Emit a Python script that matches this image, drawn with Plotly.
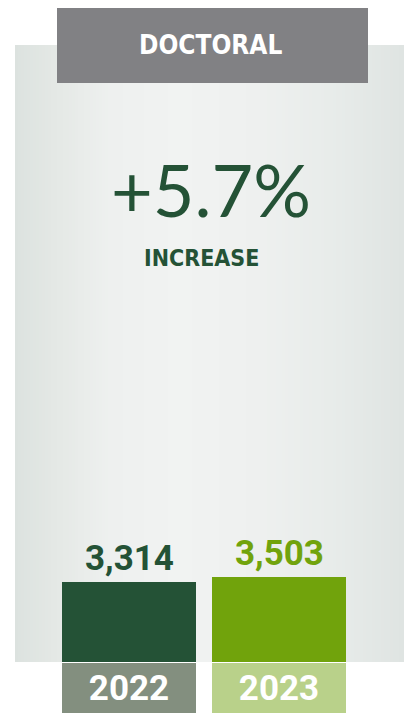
import plotly.graph_objects as go

# ---- data ----
years = ["2022", "2023"]
enrollment = [3314, 3503]
bar_colors = ["#245236", "#71a30c"]
label_colors = ["#245236", "#71a30c"]
year_box_colors = ["#838f7f", "#b9d18a"]
category_title = "DOCTORAL"
change_text = "+5.7%"
change_word = "INCREASE"

W, H = 404, 713

def px_x(p):
    return p / W

def px_y(p):
    return 1 - p / H

fig = go.Figure()

# main bars
fig.add_trace(go.Bar(
    x=years, y=enrollment, marker=dict(color=bar_colors, line=dict(width=0)),
    width=0.893, xaxis="x", yaxis="y", hoverinfo="skip", showlegend=False,
))

# year label boxes
fig.add_trace(go.Bar(
    x=years, y=[1, 1], marker=dict(color=year_box_colors, line=dict(width=0)),
    width=0.893, xaxis="x", yaxis="y2", text=years, textposition="inside",
    insidetextanchor="middle", constraintext="none",
    textfont=dict(family="Roboto", size=35, color="white", weight="bold"),
    hoverinfo="skip", showlegend=False,
))

# value labels above bars (category index positions)
for i, (v, c) in enumerate(zip(enrollment, label_colors)):
    fig.add_annotation(
        x=i, y=v, xref="x", yref="y", text=f"{v:,}", showarrow=False,
        yanchor="bottom", yshift=1,
        font=dict(family="Roboto", size=35, color=c, weight="bold"),
    )

shapes = []
# gradient background panel (vertical strips)
stops = [(15, (0xdc, 0xe2, 0xdf)), (60, (0xe5, 0xe9, 0xe6)), (110, (0xee, 0xf0, 0xef)),
         (180, (0xf1, 0xf3, 0xf2)), (260, (0xee, 0xf0, 0xef)), (330, (0xe8, 0xec, 0xea)),
         (404, (0xdf, 0xe4, 0xe2))]

def col_at(x):
    for (x0, c0), (x1, c1) in zip(stops[:-1], stops[1:]):
        if x0 <= x <= x1:
            t = (x - x0) / (x1 - x0)
            return "rgb(%d,%d,%d)" % tuple(round(a + (b - a) * t) for a, b in zip(c0, c1))
    return "rgb(%d,%d,%d)" % stops[-1][1]

step = 3
x = 15
while x < 404:
    x2 = min(x + step, 404)
    shapes.append(dict(type="rect", xref="paper", yref="paper", layer="below",
                       x0=px_x(x), x1=px_x(x2) + 0.001, y0=px_y(662), y1=px_y(45),
                       fillcolor=col_at((x + x2) / 2), line=dict(width=0)))
    x = x2

# header box
shapes.append(dict(type="rect", xref="paper", yref="paper", layer="above",
                   x0=px_x(57), x1=px_x(368), y0=px_y(83), y1=px_y(8),
                   fillcolor="#818184", line=dict(width=0)))

fig.update_layout(shapes=shapes)

fig.add_annotation(x=px_x(210), y=px_y(45), xref="paper", yref="paper",
                   text=category_title, showarrow=False, xanchor="center", yanchor="middle",
                   font=dict(family="DejaVu Sans Condensed", size=26, color="white", weight="bold"))
fig.add_annotation(x=px_x(211), y=px_y(189), xref="paper", yref="paper",
                   text=change_text, showarrow=False, xanchor="center", yanchor="middle",
                   font=dict(family="Lato", size=72, color="#245236", weight=400))
fig.add_annotation(x=px_x(201), y=px_y(258), xref="paper", yref="paper",
                   text=change_word, showarrow=False, xanchor="center", yanchor="middle",
                   font=dict(family="DejaVu Sans Condensed", size=23, color="#245236", weight="bold"))

fig.update_layout(
    width=W, height=H, margin=dict(l=0, r=0, t=0, b=0),
    paper_bgcolor="white", plot_bgcolor="rgba(0,0,0,0)",
    bargap=0,
    xaxis=dict(type="category", range=[-0.86, 1.833], visible=False, fixedrange=True),
    yaxis=dict(domain=[px_y(662), 1], range=[0, 662 / (80.5 / 3314)], visible=False, fixedrange=True),
    yaxis2=dict(domain=[0, px_y(663)], range=[0, 1], visible=False, fixedrange=True),
    showlegend=False,
)

fig.write_html(
    "out.html",
    config={"displayModeBar": False},
    post_script="document.body.style.margin='0';document.body.style.overflow='hidden';",
)
